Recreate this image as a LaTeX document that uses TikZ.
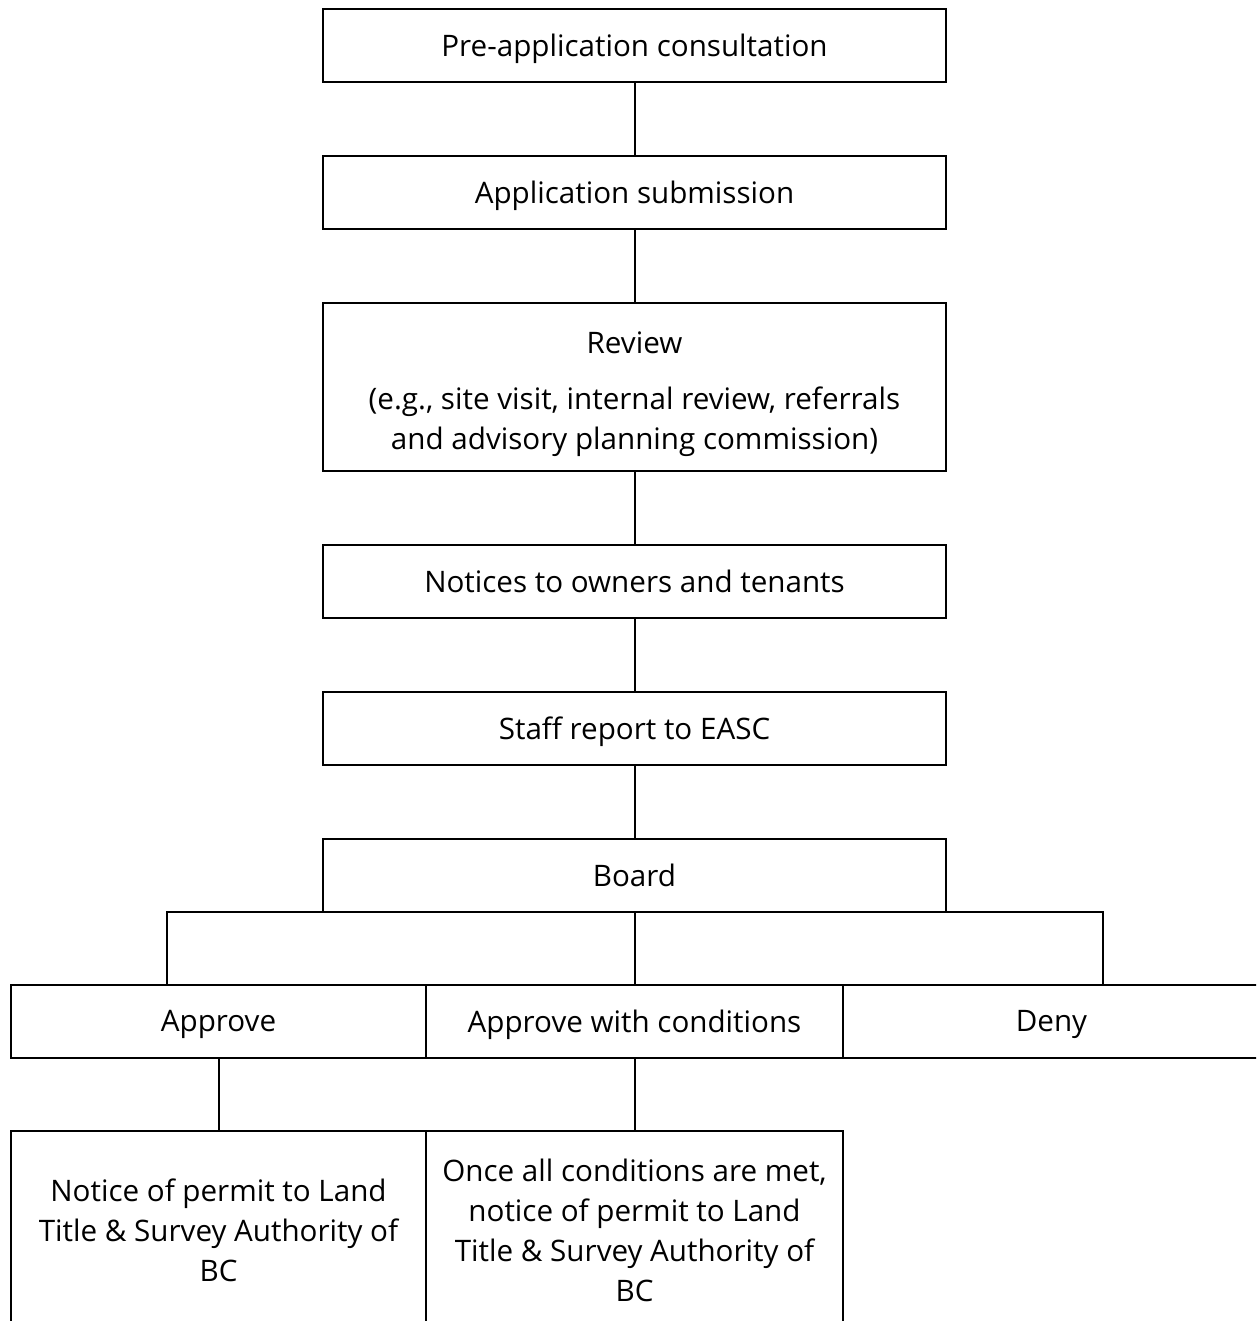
\documentclass[tikz,border=0pt]{standalone}
\usepackage{fontspec}
\setmainfont{Open Sans}
\begin{document}
\begin{tikzpicture}[x=1pt,y=-1pt,
  every node/.style={font=\fontsize{29.6}{40}\selectfont},
  boxbase/.style={draw=black,line width=2pt,inner sep=0pt,outer sep=0pt,
    align=center,text depth=0pt},
  flowbox/.style={boxbase,minimum width=623pt,minimum height=73pt},
  rowbox/.style={boxbase,minimum width=416pt,minimum height=73pt},
  tallbox/.style={boxbase,minimum width=416pt,minimum height=198pt},
  link/.style={draw=black,line width=2pt}]
\useasboundingbox (0,0) rectangle (1256,1321);
\clip (0,0) rectangle (1256,1321);

% main sequence of steps
\node[flowbox] (pre) at (634.5,45.5) {Pre-application consultation};
\node[flowbox] (sub) at (634.5,192.5) {Application submission};
\node[flowbox,minimum height=168pt] (rev) at (634.5,387)
  {\rule{0pt}{29pt}Review\\[16pt](e.g., site visit, internal review, referrals\\and advisory planning commission)};
\node[flowbox] (notc) at (634.5,581.5) {Notices to owners and tenants};
\node[flowbox] (staff) at (634.5,728.5) {Staff report to EASC};
\node[flowbox] (board) at (634.5,875) {Board};

% decisions
\node[rowbox,minimum width=415pt] (appr) at (218.5,1021) {Approve};
\node[rowbox,minimum width=417pt] (cond) at (634.5,1021) {Approve with conditions};
\node[rowbox,minimum width=417pt] (deny) at (1051.5,1021) {Deny};

% follow-up notices
\node[tallbox,minimum width=415pt] (nA) at (218.5,1230)
  {Notice of permit to Land\\Title \& Survey Authority of\\BC};
\node[tallbox,minimum width=417pt] (nC) at (634.5,1230)
  {Once all conditions are met,\\notice of permit to Land\\Title \& Survey Authority of\\BC};

% connectors
\draw[link] (pre.south) -- (sub.north);
\draw[link] (sub.south) -- (rev.north);
\draw[link] (rev.south) -- (notc.north);
\draw[link] (notc.south) -- (staff.north);
\draw[link] (staff.south) -- (board.north);

\coordinate (bl) at (167,912);
\coordinate (br) at (1103,912);
\draw[link] (appr.north -| bl) -- (bl) -- (br) -- (deny.north -| br);
\draw[link] (board.south) -- (cond.north);

\draw[link] (appr.south -| 219,0) -- (nA.north -| 219,0);
\draw[link] (cond.south) -- (nC.north);
\end{tikzpicture}
\end{document}
